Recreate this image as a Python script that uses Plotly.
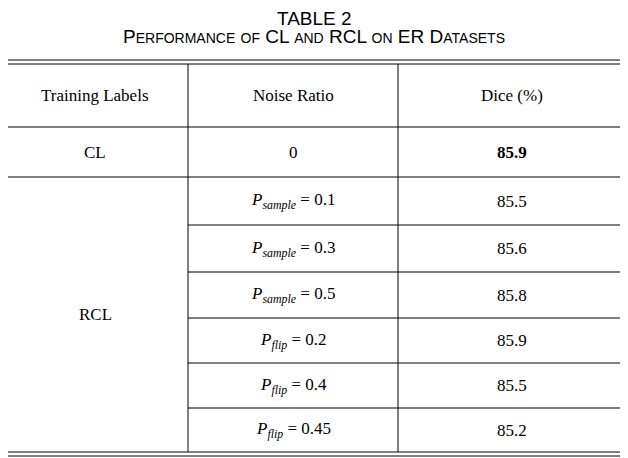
import plotly.graph_objects as go

headers = ["Training Labels", "Noise Ratio", "Dice (%)"]
labels = ["CL", "RCL"]
noise = ["0", "<i>P</i><sub><i>sample</i></sub> = 0.1", "<i>P</i><sub><i>sample</i></sub> = 0.3",
         "<i>P</i><sub><i>sample</i></sub> = 0.5", "<i>P</i><sub><i>flip</i></sub> = 0.2",
         "<i>P</i><sub><i>flip</i></sub> = 0.4", "<i>P</i><sub><i>flip</i></sub> = 0.45"]
dice = [85.9, 85.5, 85.6, 85.8, 85.9, 85.5, 85.2]

W, H = 628, 458
OFF = 8  # page body margin
xl, x1, x2, xr = 2, 188, 398, 625
row_edges = [127, 177, 225, 272, 318, 363, 408, 452]
top = 64
serif = "Liberation Serif"

fig = go.Figure()
shapes = []
def hline(y, a=xl, b=xr, w=1):
    shapes.append(dict(type="line", x0=a, x1=b, y0=y, y1=y, line=dict(color="black", width=w)))
def vline(x, a, b):
    shapes.append(dict(type="line", x0=x, x1=x, y0=a, y1=b, line=dict(color="black", width=1)))

hline(60); hline(top)
hline(row_edges[0]); hline(row_edges[1])
for y in row_edges[2:-1]:
    hline(y, x1, xr)
hline(452); hline(456)
for x in (xl, x1, x2, xr):
    vline(x, top, 452)

ann = []
def text(x, y, s, size=17, bold=False):
    if bold:
        s = "<b>" + s + "</b>"
    ann.append(dict(x=x, y=y, text=s, showarrow=False, xref="x", yref="y",
                    font=dict(family=serif, size=size, color="black")))

cx = [(xl + x1) / 2, (x1 + x2) / 2, (x2 + xr) / 2]
hy = (top + row_edges[0]) / 2
for c, h in zip(cx, headers):
    text(c, hy, h)
mids = [(row_edges[i] + row_edges[i + 1]) / 2 for i in range(7)]
text(cx[0], mids[0], labels[0])
text(cx[0], (row_edges[1] + row_edges[-1]) / 2, labels[1])
for i in range(7):
    text(cx[1], mids[i], noise[i])
    text(cx[2], mids[i], f"{dice[i]:.1f}", bold=(i == 0))

ann.append(dict(x=W / 2, y=18, text="TABLE 2", showarrow=False, xref="x", yref="y",
                font=dict(family="Liberation Sans", size=19, color="black")))
def sc(word):
    return word[0] + "<span style='font-size:14px'>" + word[1:].upper() + "</span>"
title2 = " ".join([sc("Performance"), "<span style='font-size:14px'>OF</span>", "CL",
                   "<span style='font-size:14px'>AND</span>", "RCL",
                   "<span style='font-size:14px'>ON</span>", "ER", sc("Datasets")])
ann.append(dict(x=W / 2, y=36, text=title2, showarrow=False, xref="x", yref="y",
                font=dict(family="Liberation Sans", size=19, color="black")))

fig.update_layout(width=W, height=H, margin=dict(l=0, r=0, t=0, b=0),
                  paper_bgcolor="white", plot_bgcolor="white",
                  shapes=shapes, annotations=ann, showlegend=False,
                  xaxis=dict(range=[OFF, W + OFF], visible=False),
                  yaxis=dict(range=[H + OFF, OFF], visible=False))
fig.write_html("out.html")
